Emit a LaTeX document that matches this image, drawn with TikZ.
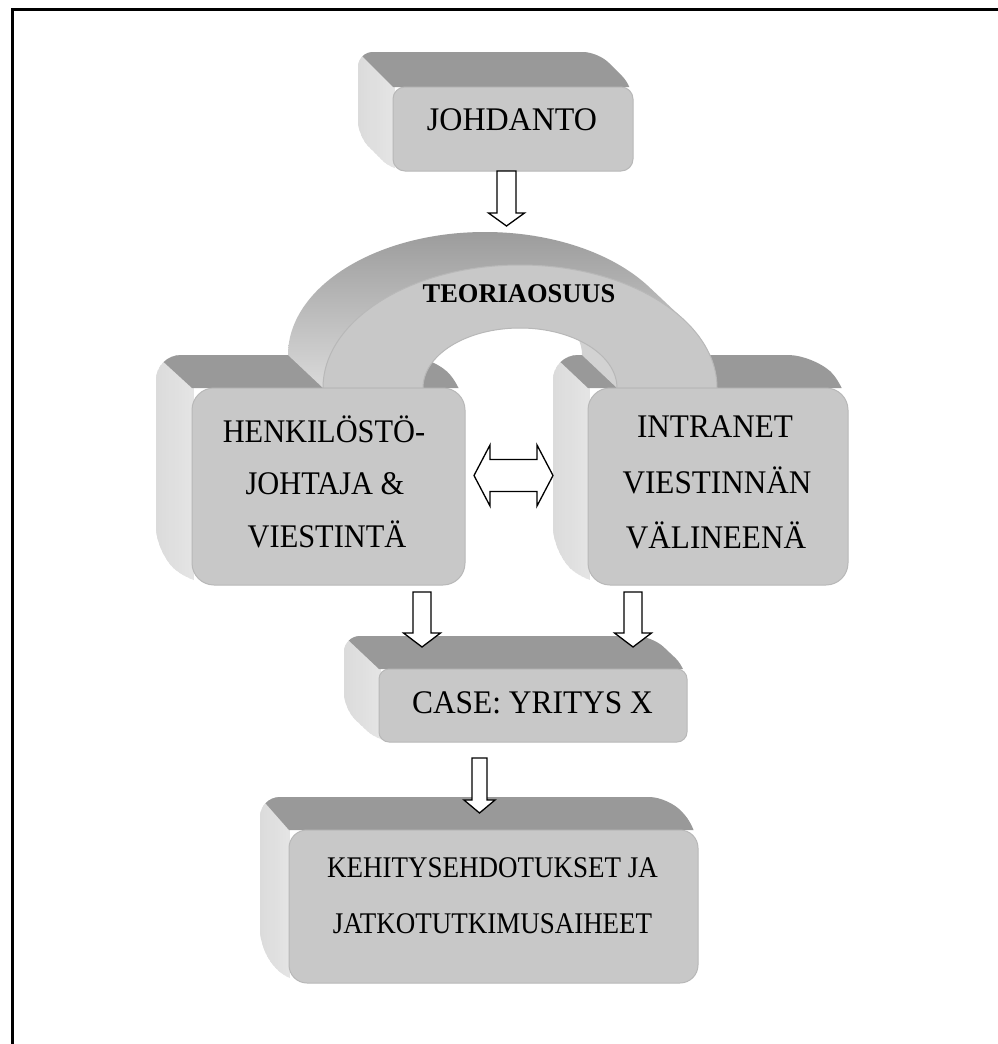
\documentclass[tikz,border=0pt]{standalone}
\usepackage{fontspec}
\setmainfont{Liberation Serif}
\usepackage{graphicx}
\usetikzlibrary{fit,calc}

\definecolor{frontcol}{RGB}{200,200,200}
\definecolor{frontedge}{RGB}{184,184,184}
\definecolor{topcol}{RGB}{153,153,153}
\definecolor{sideL}{RGB}{218,218,218}
\definecolor{sideR}{RGB}{228,228,228}
\definecolor{archTop}{RGB}{156,156,156}
\definecolor{archMid}{RGB}{198,198,198}
\definecolor{archBot}{RGB}{218,218,218}
\definecolor{wallcol}{RGB}{210,210,210}

\newcommand\sx[2]{\scalebox{#1}[1]{#2}}

% sides of an extruded box: x1 y1 x2 y2 (screen, y down), dx dy, radius
\newcommand\extrbox[7]{%
  \begin{scope}
    \clip[rounded corners=#7] (#1-#5,-#2+#6) -- (#3-#5,-#2+#6) -- (#3,-#2) -- (#3,-#4) -- (#1,-#4) -- (#1-#5,-#4+#6) -- cycle;
    \foreach \i in {0,...,11} {
      \pgfmathtruncatemacro\pc{100-\i*9}
      \fill[sideL!\pc!sideR] (#1-#5-3+\i*#5/11-0.5,-#2+#6+3) rectangle (#1-#5-3+\i*#5/11+#5/11+1.5,-#4-3);
    }
    \fill[topcol] (#1-1.3*#5,-#2+1.3*#6) -- (#3+5,-#2+1.3*#6) -- (#3+5,-#2) -- (#1,-#2) -- cycle;
  \end{scope}
}
% front face node: name x1 y1 x2 y2 radius
\newcommand\frontbox[6]{%
  \node[frontface, rounded corners=#6, fit={(#2,-#3) (#4,-#5)}] (#1) {};
}
% down block arrow: x ytop yshaftbottom ytip shafthalf headhalf
\newcommand\blockdown[6]{%
  \draw[blockarr] (#1-#5,-#2) -- (#1-#5,-#3) -- (#1-#6,-#3) -- (#1,-#4) -- (#1+#6,-#3) -- (#1+#5,-#3) -- (#1+#5,-#2) -- cycle;
}

\tikzset{
  frontface/.style={draw=frontedge, fill=frontcol, line width=1pt, inner sep=0pt, outer sep=0pt},
  blockarr/.style={draw=black, fill=white, line width=1.3pt, line join=miter},
  txt/.style={anchor=base, inner sep=0pt, text=black},
}

\begin{document}
\begin{tikzpicture}[x=1pt, y=1pt]
\useasboundingbox (0,0) rectangle (998,-1044);
\fill[white] (0,0) rectangle (998,-1044);

% frame
\draw[line width=3pt] (1002,-9.5) -- (12.5,-9.5) -- (12.5,-1048);

% ---- JOHDANTO box
\extrbox{393}{87}{633}{171}{35}{35}{15}
\frontbox{johdanto}{393}{87}{633}{171}{12}
\node[txt, font=\fontsize{33}{40}\selectfont] (tjoh) at (512,-130) {\sx{0.97}{JOHDANTO}};

% ---- sides of the two theory boxes
\extrbox{192}{388}{465}{585}{36}{33}{25}
\extrbox{588}{388}{848}{585}{35}{33}{25}

% ---- arch (TEORIAOSUUS)
\shade[top color=archTop, middle color=archMid, bottom color=archBot]
  (288,-355) arc[start angle=180, end angle=33.5, x radius=197pt, y radius=123pt]
  -- (684.3,-320.1) arc[start angle=33.5, end angle=180, x radius=197pt, y radius=123pt] -- cycle;
\fill[wallcol]
  (617,-388) arc[start angle=0, end angle=33.3, x radius=97pt, y radius=60pt]
  -- (566.1,-322.1) arc[start angle=33.3, end angle=0, x radius=97pt, y radius=60pt] -- cycle;
\filldraw[fill=frontcol, draw=frontedge, line width=1pt]
  (323,-388) arc[start angle=180, end angle=0, x radius=197pt, y radius=123pt]
  -- (617,-388) arc[start angle=0, end angle=180, x radius=97pt, y radius=60pt] -- cycle;
\node[txt, font=\fontsize{27}{32}\bfseries\selectfont] (tteo) at (519,-302) {\sx{0.98}{TEORIAOSUUS}};

% ---- front faces of the theory boxes
\frontbox{henk}{192}{388}{465}{585}{22}
\node[txt, font=\fontsize{33}{40}\selectfont] (th1) at (324,-442) {\sx{0.92}{HENKILÖSTÖ-}};
\node[txt, font=\fontsize{33}{40}\selectfont] (th2) at (325,-494) {\sx{0.92}{JOHTAJA \&}};
\node[txt, font=\fontsize{33}{40}\selectfont] (th3) at (327,-547) {\sx{0.92}{VIESTINTÄ}};

\frontbox{intra}{588}{388}{848}{585}{22}
\node[txt, font=\fontsize{33}{40}\selectfont] (ti1) at (715,-437) {\sx{0.945}{INTRANET}};
\node[txt, font=\fontsize{33}{40}\selectfont] (ti2) at (717,-493) {\sx{0.945}{VIESTINNÄN}};
\node[txt, font=\fontsize{33}{40}\selectfont] (ti3) at (716,-548) {\sx{0.945}{VÄLINEENÄ}};

% ---- CASE box
\extrbox{379}{669}{687}{742}{35}{33}{16}
\frontbox{case}{379}{669}{687}{742}{10}
\node[txt, font=\fontsize{33}{40}\selectfont] (tcase) at (532.5,-713) {\sx{0.952}{CASE: YRITYS X}};

% ---- bottom box
\extrbox{289}{830}{698}{983}{29}{33}{20}
\frontbox{kehit}{289}{830}{698}{983}{18}
\node[txt, font=\fontsize{30}{36}\selectfont] (tk1) at (492.5,-877) {\sx{0.90}{KEHITYSEHDOTUKSET JA}};
\node[txt, font=\fontsize{30}{36}\selectfont] (tk2) at (492.5,-933) {\sx{0.90}{JATKOTUTKIMUSAIHEET}};

% ---- arrows
\blockdown{506.5}{171}{213}{226}{9.5}{18}
\blockdown{422}{592}{633}{647}{9}{18.5}
\blockdown{633}{592}{633}{647}{9}{18.5}
\blockdown{479.5}{758}{800}{813}{7.5}{15.5}
\draw[blockarr] (474,-475.5) -- (490,-445) -- (490,-459.5) -- (537,-459.5) -- (537,-445)
  -- (553,-475.5) -- (537,-506) -- (537,-491.5) -- (490,-491.5) -- (490,-506) -- cycle;
\end{tikzpicture}
\end{document}
